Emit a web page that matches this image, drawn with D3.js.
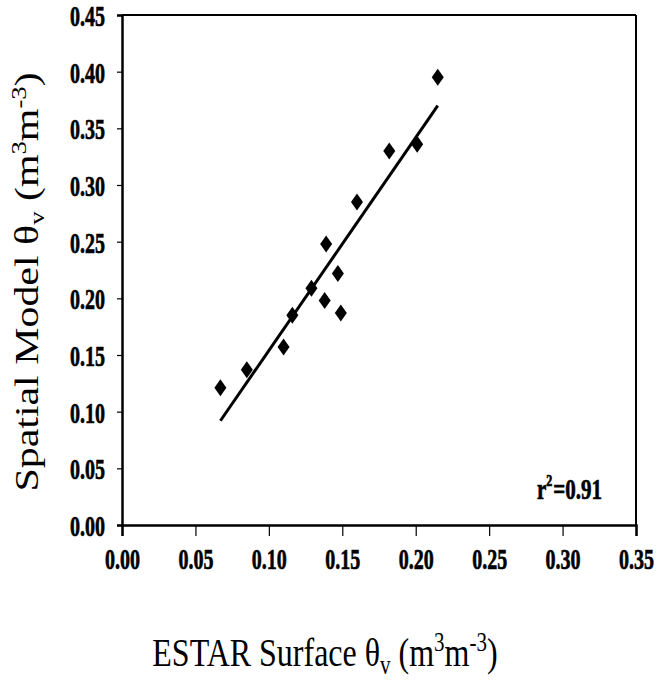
<!DOCTYPE html>
<html>
<head>
<meta charset="utf-8">
<script src="https://cdn.jsdelivr.net/npm/d3@7"></script>
<style>
  body { margin: 0; background: #fff; }
  svg { display: block; }
</style>
</head>
<body>
<div id="chart"></div>
<script>
// ESTAR surface soil moisture vs spatial model estimate
var estarVals = [0.067, 0.085, 0.110, 0.116, 0.129, 0.138, 0.139, 0.147, 0.149, 0.160, 0.182, 0.201, 0.215];
var modelVals = [0.121, 0.137, 0.157, 0.185, 0.209, 0.198, 0.248, 0.222, 0.187, 0.285, 0.330, 0.336, 0.395];

// fitted line, end points
var fitX = [0.067, 0.215];
var fitY = [0.092, 0.370];

var xTicks = [0, 0.05, 0.10, 0.15, 0.20, 0.25, 0.30, 0.35];
var yTicks = [0, 0.05, 0.10, 0.15, 0.20, 0.25, 0.30, 0.35, 0.40, 0.45];
var rSquared = "0.91";

var serif = "Liberation Serif";
var stretch = 1.27;   // the scanned figure is taller than it is wide
var numStretch = 1.4; // bold numbers look even narrower

var margin = {top: 15, right: 23, bottom: 156, left: 122},
    width = 659 - margin.left - margin.right,
    height = 681 - margin.top - margin.bottom;

var svg = d3.select("#chart")
    .append("svg")
    .attr("width", 659)
    .attr("height", 681)
    .append("g")
    .attr("transform", "translate(" + margin.left + "," + margin.top + ")");

var x = d3.scaleLinear().domain([0, 0.35]).range([0, width]);
var y = d3.scaleLinear().domain([0, 0.45]).range([height, 0]);

// frame: top and right
svg.append("line")
    .attr("x1", 0).attr("x2", width).attr("y1", 0).attr("y2", 0)
    .attr("stroke", "#000").attr("stroke-width", 2);
svg.append("line")
    .attr("x1", width).attr("x2", width).attr("y1", 0).attr("y2", height)
    .attr("stroke", "#000").attr("stroke-width", 2);

var xAxis = svg.append("g")
    .attr("transform", "translate(0," + height + ")")
    .call(d3.axisBottom(x).tickValues(xTicks).tickSize(11)
        .tickFormat(d3.format(".2f")));

var yAxis = svg.append("g")
    .call(d3.axisLeft(y).tickValues(yTicks).tickSize(5).tickPadding(12)
        .tickFormat(d3.format(".2f")));

[xAxis, yAxis].forEach(function(a) {
    a.select(".domain").attr("stroke-width", 2.5);
    a.selectAll(".tick line").attr("stroke-width", 1.2);
    a.selectAll(".tick text")
        .attr("font-family", serif)
        .attr("font-weight", "bold")
        .attr("font-size", 21)
        .attr("fill", "#000")
        .attr("textLength", 35)
        .attr("lengthAdjust", "spacingAndGlyphs")
        .attr("stroke", "#000")
        .attr("stroke-width", 0.5)
        .attr("transform", "scale(1," + numStretch + ")");
});
xAxis.selectAll(".tick text").attr("y", 23 / numStretch).attr("dy", "0.71em");
yAxis.selectAll(".tick text").attr("dy", "0.36em");

// regression line
svg.append("line")
    .attr("x1", x(fitX[0])).attr("y1", y(fitY[0]))
    .attr("x2", x(fitX[1])).attr("y2", y(fitY[1]))
    .attr("stroke", "#000")
    .attr("stroke-width", 3);

// diamonds
svg.selectAll(".pt")
    .data(estarVals)
    .enter()
    .append("path")
    .attr("class", "pt")
    .attr("d", "M0,-8.5L6,0L0,8.5L-6,0Z")
    .attr("transform", function(d, i) { return "translate(" + x(d) + "," + y(modelVals[i]) + ")"; })
    .attr("fill", "#000");

// r squared
var r2 = svg.append("text")
    .attr("transform", "translate(415,484) scale(1," + numStretch + ")")
    .attr("font-family", serif)
    .attr("font-weight", "bold")
    .attr("font-size", 21)
    .attr("fill", "#000")
    .attr("stroke", "#000")
    .attr("stroke-width", 0.5);
r2.append("tspan").text("r");
r2.append("tspan").attr("dy", -9).attr("font-size", 12).text("2");
r2.append("tspan").attr("dy", 9).attr("dx", 1).text("=" + rSquared);

function unitTitle(sel, label) {
    sel.append("tspan").text(label + " \u03b8");
    sel.append("tspan").attr("dy", 6).attr("font-size", 21).text("v");
    sel.append("tspan").attr("dy", -6).text(" (m");
    sel.append("tspan").attr("dy", -12).attr("font-size", 21).text("3");
    sel.append("tspan").attr("dy", 12).text("m");
    sel.append("tspan").attr("dy", -12).attr("font-size", 21).text("-3");
    sel.append("tspan").attr("dy", 12).text(")");
}

// y title
var yt = svg.append("text")
    .attr("transform", "translate(-84,267) rotate(-90) scale(" + stretch + ",1)")
    .attr("font-family", serif)
    .attr("font-size", 33)
    .attr("fill", "#000")
    .attr("text-anchor", "middle");
unitTitle(yt, "Spatial Model");

// x title
var xt = svg.append("text")
    .attr("transform", "translate(203,651) scale(1," + stretch + ")")
    .attr("font-family", serif)
    .attr("font-size", 32)
    .attr("fill", "#000")
    .attr("text-anchor", "middle");
unitTitle(xt, "ESTAR Surface");
</script>
</body>
</html>
